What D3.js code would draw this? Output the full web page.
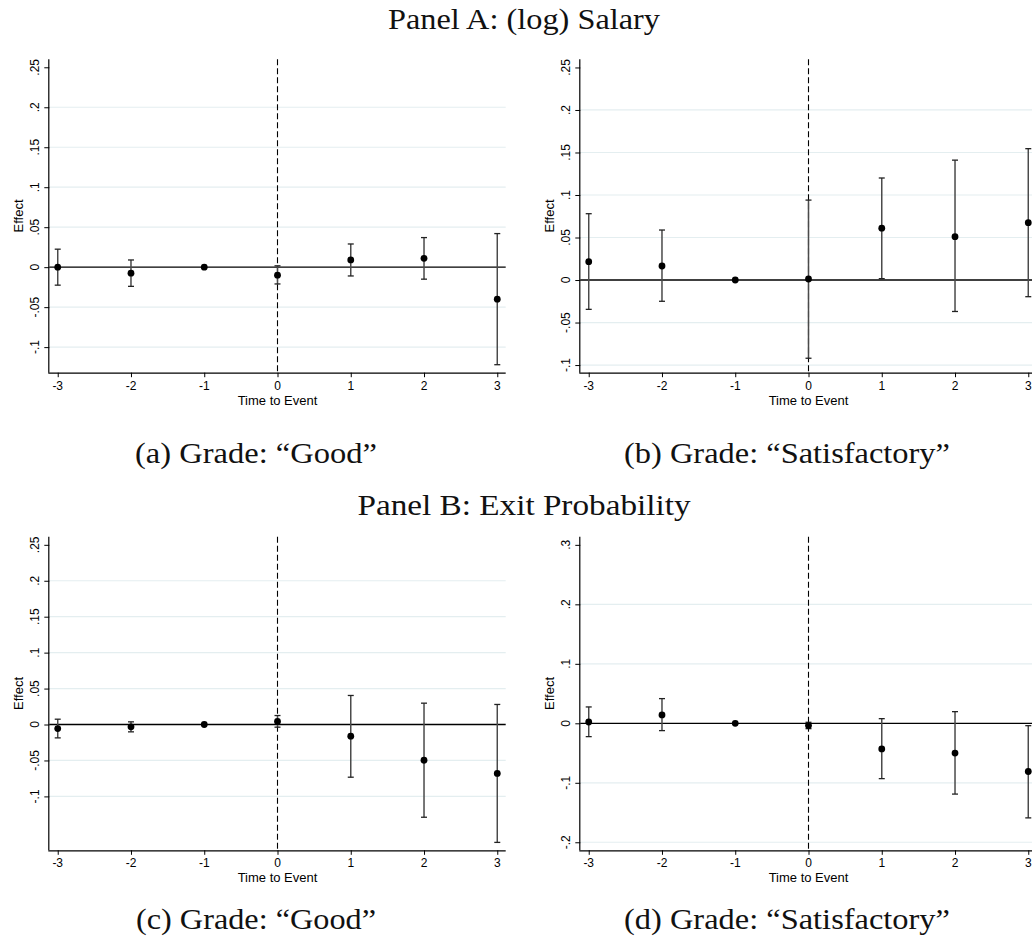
<!DOCTYPE html>
<html><head><meta charset="utf-8">
<script src="https://cdn.jsdelivr.net/npm/d3@7"></script>
<style>body{margin:0;background:#fff}svg{display:block}</style>
</head><body>
<svg id="c" width="1032" height="946"></svg>
<script>
// ---------- data ----------
const times = [-3, -2, -1, 0, 1, 2, 3];
const xTickValues = [-3, -2, -1, 0, 1, 2, 3];

const salaryGoodEst = [0, -0.0075, 0, -0.010, 0.009, 0.011, -0.040];
const salaryGoodLo  = [-0.0225, -0.024, null, -0.021, -0.011, -0.015, -0.122];
const salaryGoodHi  = [0.0225, 0.009, null, 0.0017, 0.029, 0.037, 0.042];

const salarySatEst = [0.0216, 0.0165, 0, 0.0012, 0.061, 0.051, 0.0675];
const salarySatLo  = [-0.0345, -0.025, null, -0.092, 0.0016, -0.037, -0.0196];
const salarySatHi  = [0.078, 0.0588, null, 0.094, 0.120, 0.141, 0.1545];

const exitGoodEst = [-0.0056, -0.0032, 0, 0.0042, -0.0162, -0.0497, -0.068];
const exitGoodLo  = [-0.0186, -0.0102, null, -0.0037, -0.0733, -0.129, -0.164];
const exitGoodHi  = [0.0074, 0.0037, null, 0.0125, 0.0404, 0.0297, 0.0279];

const exitSatEst = [0.0022, 0.014, 0, -0.0039, -0.043, -0.050, -0.081];
const exitSatLo  = [-0.0224, -0.0123, null, -0.009, -0.093, -0.119, -0.159];
const exitSatHi  = [0.0275, 0.0415, null, 0.0017, 0.0078, 0.0196, -0.004];

const yTicksSalaryGood = [-0.1, -0.05, 0, 0.05, 0.1, 0.15, 0.2, 0.25];
const yTicksSalarySat  = [-0.1, -0.05, 0, 0.05, 0.1, 0.15, 0.2, 0.25];
const yTicksExitGood   = [-0.1, -0.05, 0, 0.05, 0.1, 0.15, 0.2, 0.25];
const yTicksExitSat    = [-0.2, -0.1, 0, 0.1, 0.2, 0.3];

const panelTitles = ["Panel A: (log) Salary", "Panel B: Exit Probability"];
const captions = ["(a) Grade: \u201CGood\u201D", "(b) Grade: \u201CSatisfactory\u201D",
                  "(c) Grade: \u201CGood\u201D", "(d) Grade: \u201CSatisfactory\u201D"];
const xAxisTitle = "Time to Event";
const yAxisTitle = "Effect";

// ---------- layout ----------
const svg = d3.select("#c");
const PW = 456.4;
const panels = [
  {left: 49.3,  top: 59.3,  bottom: 372.7, dom: [-0.132, 0.26],   ticks: yTicksSalaryGood, est: salaryGoodEst, lo: salaryGoodLo, hi: salaryGoodHi},
  {left: 580.3, top: 59.3,  bottom: 372.7, dom: [-0.109, 0.2596], ticks: yTicksSalarySat,  est: salarySatEst,  lo: salarySatLo,  hi: salarySatHi},
  {left: 49.3,  top: 536.7, bottom: 850.3, dom: [-0.175, 0.2613], ticks: yTicksExitGood,   est: exitGoodEst,   lo: exitGoodLo,   hi: exitGoodHi},
  {left: 580.3, top: 536.7, bottom: 850.3, dom: [-0.2135, 0.3137],ticks: yTicksExitSat,    est: exitSatEst,    lo: exitSatLo,    hi: exitSatHi}
];

const fmt = v => {
  if (Math.abs(v) < 1e-9) return "0";
  return String(+v.toFixed(3)).replace(/^(-?)0\./, "$1.");
};

const sans = "'Liberation Sans', Arial, Helvetica, sans-serif";
const serif = "'Liberation Serif', 'Times New Roman', serif";
const ciColor = "#4a4a4a";

panels.forEach(p => {
  const x = d3.scaleLinear().domain([-3.115, 3.115]).range([p.left, p.left + PW]);
  const y = d3.scaleLinear().domain(p.dom).range([p.bottom, p.top]);
  const g = svg.append("g");

  // gridlines (not at the top tick or zero)
  const topTick = d3.max(p.ticks);
  g.selectAll(".grid").data(p.ticks.filter(t => t !== 0 && t !== topTick)).enter()
    .append("line")
    .attr("x1", p.left).attr("x2", p.left + PW)
    .attr("y1", d => y(d)).attr("y2", d => y(d))
    .attr("stroke", "#e4eef0").attr("stroke-width", 1.2);

  // y axis
  const yAxis = d3.axisLeft(y).tickValues(p.ticks).tickSize(5).tickFormat("");
  const ya = g.append("g").attr("transform", `translate(${p.left},0)`).call(yAxis);
  ya.select(".domain").attr("d", `M-0.5,${p.top}V${p.bottom}`).attr("stroke", "#000").attr("stroke-width", 1.2);
  ya.selectAll(".tick line").attr("stroke", "#000").attr("stroke-width", 1);
  g.selectAll(".ylab").data(p.ticks).enter().append("text")
    .attr("transform", d => `translate(${p.left - 10},${y(d)}) rotate(-90)`)
    .attr("text-anchor", "middle")
    .style("font-family", sans).style("font-size", "12px").attr("fill", "#000")
    .text(fmt);
  g.append("text")
    .attr("transform", `translate(${p.left - 26},${(p.top + p.bottom) / 2}) rotate(-90)`)
    .attr("text-anchor", "middle")
    .style("font-family", sans).style("font-size", "13px").attr("fill", "#000")
    .text(yAxisTitle);

  // x axis
  const xAxis = d3.axisBottom(x).tickValues(xTickValues).tickSize(4.5).tickFormat("");
  const xa = g.append("g").attr("transform", `translate(0,${p.bottom})`).call(xAxis);
  xa.select(".domain").attr("d", `M${p.left - 1},0.5H${p.left + PW}`).attr("stroke", "#000").attr("stroke-width", 1.2);
  xa.selectAll(".tick line").attr("stroke", "#000").attr("stroke-width", 1);
  g.selectAll(".xlab").data(xTickValues).enter().append("text")
    .attr("x", d => x(d)).attr("y", p.bottom + 17)
    .attr("text-anchor", "middle")
    .style("font-family", sans).style("font-size", "12px").attr("fill", "#000")
    .text(d => String(d));
  g.append("text")
    .attr("x", x(0)).attr("y", p.bottom + 32)
    .attr("text-anchor", "middle")
    .style("font-family", sans).style("font-size", "13px").attr("fill", "#000")
    .text(xAxisTitle);

  // zero line
  g.append("line")
    .attr("x1", p.left).attr("x2", p.left + PW)
    .attr("y1", y(0)).attr("y2", y(0))
    .attr("stroke", "#000").attr("stroke-width", 1.3);

  // dashed vertical at event time
  g.append("line")
    .attr("x1", x(0)).attr("x2", x(0))
    .attr("y1", p.top).attr("y2", p.bottom)
    .attr("stroke", "#000").attr("stroke-width", 1.1).attr("stroke-dasharray", "6,3");

  const rows = times.map((t, i) => ({t, est: p.est[i], lo: p.lo[i], hi: p.hi[i]}));
  const ci = rows.filter(r => r.lo !== null);

  // CI bars
  g.selectAll(".ci").data(ci).enter().append("line")
    .attr("x1", d => x(d.t)).attr("x2", d => x(d.t))
    .attr("y1", d => y(d.lo)).attr("y2", d => y(d.hi))
    .attr("stroke", ciColor).attr("stroke-width", 1.5);
  ["lo", "hi"].forEach(k => {
    g.selectAll(".cap" + k).data(ci).enter().append("line")
      .attr("x1", d => x(d.t) - 3).attr("x2", d => x(d.t) + 3)
      .attr("y1", d => y(d[k])).attr("y2", d => y(d[k]))
      .attr("stroke", "#222").attr("stroke-width", 1.3);
  });

  // points
  g.selectAll(".pt").data(rows).enter().append("circle")
    .attr("cx", d => x(d.t)).attr("cy", d => y(d.est)).attr("r", 3.4)
    .attr("fill", "#000");
});

// ---------- LaTeX-like titles and captions ----------
const serifTexts = [
  {text: panelTitles[0], x: 524, y: 29,  len: 272},
  {text: panelTitles[1], x: 524, y: 515, len: 333},
  {text: captions[0],    x: 256, y: 463, len: 242},
  {text: captions[1],    x: 787, y: 463, len: 326},
  {text: captions[2],    x: 256, y: 929, len: 240},
  {text: captions[3],    x: 787, y: 929, len: 326}
];
svg.selectAll(".st").data(serifTexts).enter().append("text")
  .attr("x", d => d.x).attr("y", d => d.y)
  .attr("text-anchor", "middle")
  .attr("textLength", d => d.len).attr("lengthAdjust", "spacingAndGlyphs")
  .style("font-family", serif).style("font-size", "29px").attr("fill", "#111")
  .text(d => d.text);
</script>
</body></html>
